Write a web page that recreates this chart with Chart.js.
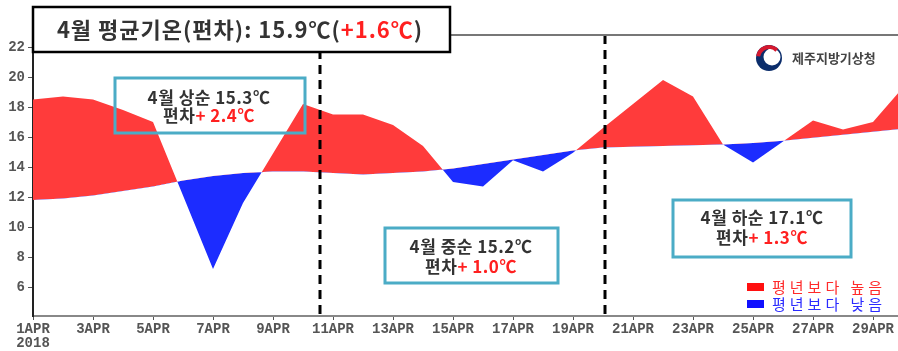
<!DOCTYPE html>
<html>
<head>
<meta charset="utf-8">
<script src="https://cdn.jsdelivr.net/npm/chart.js@4.4.0/dist/chart.umd.min.js"></script>
<style>
html,body{margin:0;padding:0;background:#fff;}
#wrap{width:898px;height:351px;}
</style>
</head>
<body>
<div id="wrap"><canvas id="graficoTemp" width="898" height="351"></canvas></div>
<script>
//Datos abril 2018 (temperatura media diaria y normal)
var dias = [1,2,3,4,5,6,7,8,9,10,11,12,13,14,15,16,17,18,19,20,21,22,23,24,25,26,27,28,29,30];
var tempDiaria = [18.5,18.7,18.5,17.8,17.0,12.1,7.2,11.6,14.9,18.2,17.5,17.5,16.8,15.4,13.0,12.7,14.45,13.7,14.95,16.6,18.2,19.8,18.7,15.5,14.3,15.7,17.1,16.5,17.0,19.3];
var tempNormal = [11.8,11.9,12.1,12.4,12.7,13.1,13.4,13.6,13.7,13.7,13.6,13.5,13.6,13.7,13.9,14.2,14.5,14.8,15.1,15.3,15.35,15.4,15.45,15.5,15.6,15.75,15.95,16.15,16.35,16.55];
var diasTicks = [1,3,5,7,9,11,13,15,17,19,21,23,25,27,29];
var etiquetasX = ['1APR','3APR','5APR','7APR','9APR','11APR','13APR','15APR','17APR','19APR','21APR','23APR','25APR','27APR','29APR'];
var anio = '2018';
var ticksY = [6,8,10,12,14,16,18,20,22];
var limitesDecada = [10.57, 20.07];

var colorAlto = '#ff3b3b';
var colorBajo = '#1c2cff';
var fuenteKR = '"Noto Sans CJK KR"';

//Texto con varios colores centrado
function textoPartes(ctx, partes, cx, y, font, espacio){
    ctx.font = font;
    ctx.letterSpacing = (espacio || 0) + 'px';
    var total = 0;
    partes.forEach(function(p){ total += ctx.measureText(p[0]).width; });
    var x = cx - total / 2;
    ctx.textAlign = 'left';
    ctx.textBaseline = 'middle';
    partes.forEach(function(p){
        ctx.fillStyle = p[1];
        ctx.fillText(p[0], x, y);
        x += ctx.measureText(p[0]).width;
    });
}

function cajaDecada(ctx, x1, y1, x2, y2, linea1, valor, cx, ya, yb){
    ctx.save();
    ctx.strokeStyle = '#4bacc6';
    ctx.lineWidth = 3;
    ctx.strokeRect(x1, y1, x2 - x1, y2 - y1);
    var f = 'bold 17px ' + fuenteKR;
    textoPartes(ctx, [[linea1, '#333']], cx, ya, f, 0.5);
    textoPartes(ctx, [['편차', '#333'], [valor, '#ff2020']], cx, yb, f, 0.5);
    ctx.restore();
}

var pluginDecoracion = {
    id: 'decoracion',
    afterDraw: function(chart){
        var ctx = chart.ctx;
        var area = chart.chartArea;
        var sx = chart.scales.x;

        //Lineas de decada
        ctx.save();
        ctx.strokeStyle = '#000';
        ctx.lineWidth = 3;
        ctx.setLineDash([9, 6]);
        limitesDecada.forEach(function(d){
            var px = Math.round(sx.getPixelForValue(d));
            ctx.beginPath();
            ctx.moveTo(px, area.top);
            ctx.lineTo(px, area.bottom);
            ctx.stroke();
        });
        ctx.restore();

        //Borde superior
        ctx.save();
        ctx.strokeStyle = '#777';
        ctx.lineWidth = 2;
        ctx.beginPath();
        ctx.moveTo(area.left, area.top);
        ctx.lineTo(chart.width, area.top);
        ctx.stroke();
        ctx.restore();

        //Titulo
        ctx.save();
        ctx.fillStyle = '#fff';
        ctx.fillRect(33, 7, 417, 45);
        ctx.strokeStyle = '#000';
        ctx.lineWidth = 2.5;
        ctx.strokeRect(33, 7, 417, 45);
        textoPartes(ctx, [['4월 평균기온(편차): 15.9℃(', '#333'], ['+1.6℃', '#ff2020'], [')', '#333']], 240, 30, 'bold 22px ' + fuenteKR, 1);
        ctx.restore();

        //Cajas por decada
        cajaDecada(ctx, 115, 78, 305, 133, '4월 상순 15.3℃', '+ 2.4℃', 209, 98, 116);
        cajaDecada(ctx, 385, 228, 558, 283, '4월 중순 15.2℃', '+ 1.0℃', 471, 247, 267);
        cajaDecada(ctx, 673, 200, 851, 257, '4월 하순 17.1℃', '+ 1.3℃', 762, 218, 238);

        //Logo
        ctx.save();
        var lx = 769, ly = 58;
        ctx.fillStyle = '#0b2d6b';
        ctx.beginPath();
        ctx.arc(lx, ly, 13, 0, Math.PI * 2);
        ctx.fill();
        ctx.fillStyle = '#fff';
        ctx.beginPath();
        ctx.arc(lx + 3, ly - 1, 8.5, 0, Math.PI * 2);
        ctx.fill();
        ctx.strokeStyle = '#d6182e';
        ctx.lineWidth = 4;
        ctx.beginPath();
        ctx.arc(lx, ly, 11, Math.PI * 1.05, Math.PI * 1.75);
        ctx.stroke();
        ctx.font = 'bold 13px ' + fuenteKR;
        ctx.fillStyle = '#444';
        ctx.textAlign = 'left';
        ctx.textBaseline = 'middle';
        ctx.fillText('제주지방기상청', 792, ly);
        ctx.restore();

        //Leyenda
        ctx.save();
        ctx.font = '15px ' + fuenteKR;
        ctx.letterSpacing = '4px';
        ctx.textAlign = 'left';
        ctx.textBaseline = 'middle';
        ctx.fillStyle = '#ff1010';
        ctx.fillRect(747, 283, 17, 8);
        ctx.fillStyle = '#ff2a2a';
        ctx.fillText('평년보다 높음', 772, 287);
        ctx.fillStyle = '#1010ff';
        ctx.fillRect(747, 300, 17, 8);
        ctx.fillStyle = '#2a2aff';
        ctx.fillText('평년보다 낮음', 772, 304);
        ctx.restore();
    }
};

var getGrafico = document.getElementById('graficoTemp');
var graficoTemp = new Chart(getGrafico, {
    type: 'line',
    plugins: [pluginDecoracion],
    data: {
        datasets: [
            {
                label: '일평균기온',
                data: dias.map(function(d, i){ return {x: d, y: tempDiaria[i]}; }),
                borderWidth: 0,
                borderColor: 'rgba(0,0,0,0)',
                pointRadius: 0,
                tension: 0,
                fill: {target: 1, above: colorAlto, below: colorBajo}
            },
            {
                label: '평년',
                data: dias.map(function(d, i){ return {x: d, y: tempNormal[i]}; }),
                borderWidth: 0,
                borderColor: 'rgba(0,0,0,0)',
                pointRadius: 0,
                tension: 0,
                fill: false
            }
        ]
    },
    options: {
        responsive: false,
        animation: false,
        devicePixelRatio: 1,
        layout: { padding: {top: 35, left: 0, right: 0, bottom: 0} },
        scales: {
            x: {
                type: 'linear',
                min: 1,
                max: 29.833,
                afterBuildTicks: function(s){ s.ticks = diasTicks.map(function(v){ return {value: v}; }); },
                afterFit: function(s){ s.height = 35; },
                grid: { display: true, drawOnChartArea: false, drawTicks: true, tickLength: 4, color: '#555' },
                border: { display: true, color: '#888', width: 2 },
                ticks: {
                    autoSkip: false,
                    maxRotation: 0,
                    padding: 2,
                    color: '#555',
                    font: { family: 'Liberation Mono', size: 14, weight: 'bold', lineHeight: 1.0 },
                    callback: function(v){
                        var i = diasTicks.indexOf(v);
                        return i === 0 ? [etiquetasX[0], anio] : etiquetasX[i];
                    }
                }
            },
            y: {
                min: 4.07,
                max: 22.8,
                afterBuildTicks: function(s){ s.ticks = ticksY.map(function(v){ return {value: v}; }); },
                afterFit: function(s){ s.width = 33; },
                grid: { display: true, drawOnChartArea: false, drawTicks: true, tickLength: 5, color: '#555' },
                border: { display: true, color: '#222', width: 2 },
                ticks: {
                    padding: 3,
                    color: '#555',
                    font: { family: 'Liberation Mono', size: 14, weight: 'bold' }
                }
            }
        },
        plugins: {
            legend: { display: false },
            tooltip: { enabled: false }
        }
    }
});
</script>
</body>
</html>
